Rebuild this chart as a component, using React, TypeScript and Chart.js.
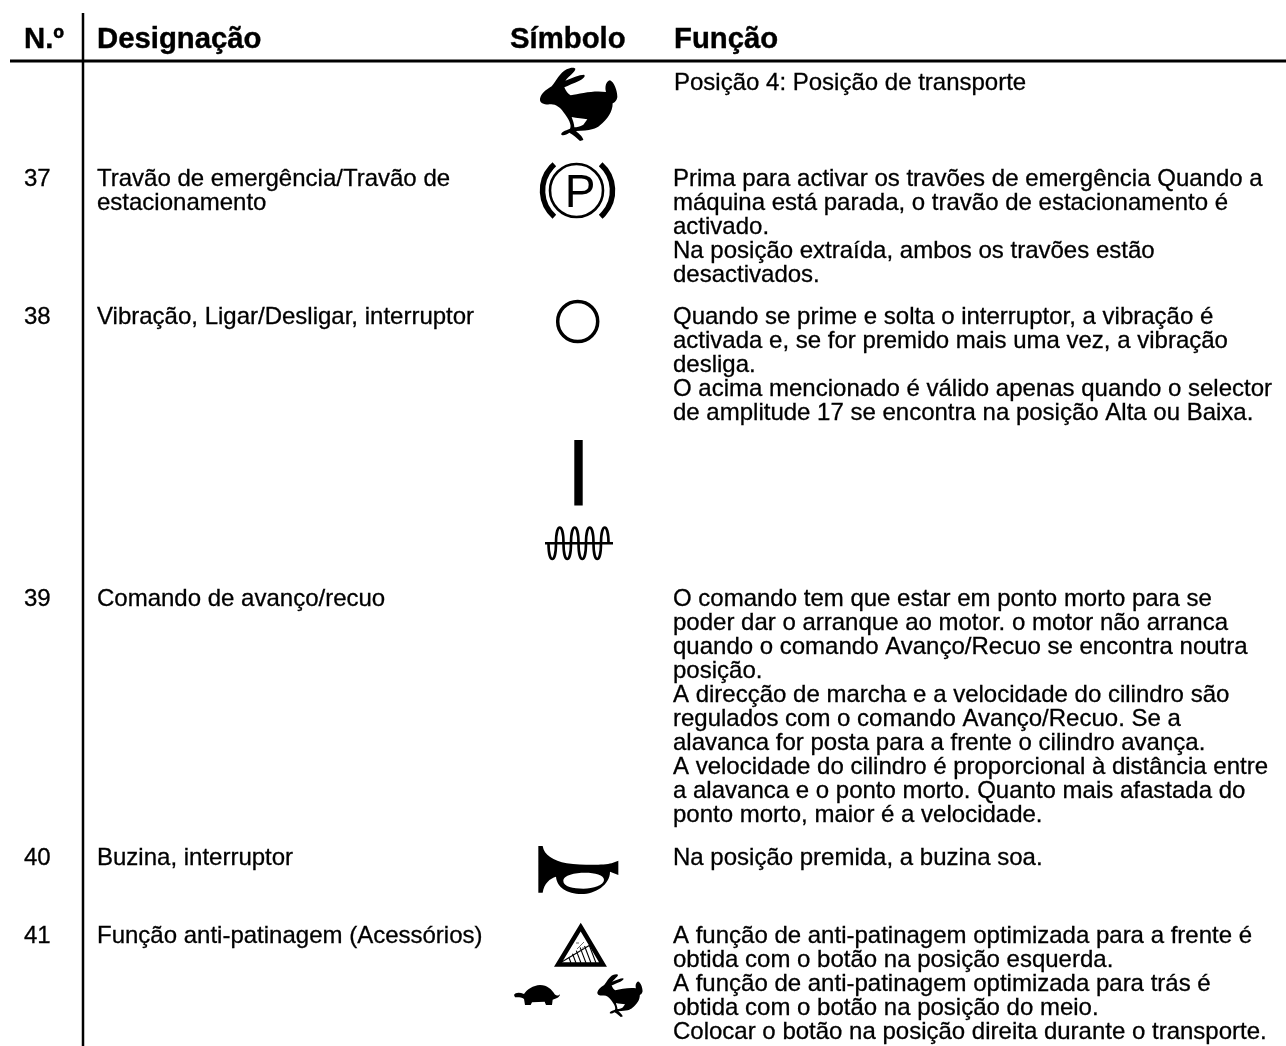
import React, { useEffect, useRef } from "react";
import { Chart, registerables } from "chart.js";

Chart.register(...registerables);

const headers = ["N.º", "Designação", "Símbolo", "Função"];
const numbers = ["37", "38", "39", "40", "41"];
const designations = [
  ["Travão de emergência/Travão de", "estacionamento"],
  ["Vibração, Ligar/Desligar, interruptor"],
  ["Comando de avanço/recuo"],
  ["Buzina, interruptor"],
  ["Função anti-patinagem (Acessórios)"],
];
const transportLine = ["Posição 4: Posição de transporte"];
const fn37 = [
  "Prima para activar os travões de emergência Quando a",
  "máquina está parada, o travão de estacionamento é",
  "activado.",
  "Na posição extraída, ambos os travões estão",
  "desactivados.",
];
const fn38 = [
  "Quando se prime e solta o interruptor, a vibração é",
  "activada e, se for premido mais uma vez, a vibração",
  "desliga.",
  "O acima mencionado é válido apenas quando o selector",
  "de amplitude 17 se encontra na posição Alta ou Baixa.",
];
const fn39 = [
  "O comando tem que estar em ponto morto para se",
  "poder dar o arranque ao motor. o motor não arranca",
  "quando o comando Avanço/Recuo se encontra noutra",
  "posição.",
  "A direcção de marcha e a velocidade do cilindro são",
  "regulados com o comando Avanço/Recuo. Se a",
  "alavanca for posta para a frente o cilindro avança.",
  "A velocidade do cilindro é proporcional à distância entre",
  "a alavanca e o ponto morto. Quanto mais afastada do",
  "ponto morto, maior é a velocidade.",
];
const fn40 = ["Na posição premida, a buzina soa."];
const fn41 = [
  "A função de anti-patinagem optimizada para a frente é",
  "obtida com o botão na posição esquerda.",
  "A função de anti-patinagem optimizada para trás é",
  "obtida com o botão na posição do meio.",
  "Colocar o botão na posição direita durante o transporte.",
];
const rowBaselines = [186, 324, 605.5, 865, 942.5];

const RABBIT =
  "M30 110 C34 95 45 85 65 73 C78 58 90 32 110 22 C120 17 132 15 136 20 C136 30 118 40 106 56 C125 48 148 38 162 38 C168 42 160 50 148 56 C130 64 115 70 103 76 C108 88 114 96 122 100 C150 94 195 84 228 90 C224 75 228 58 240 55 C252 60 262 85 262 105 C260 118 252 122 248 124 C248 150 232 172 210 190 C200 200 180 207 138 207 C148 216 160 226 160 234 L150 237 C140 228 130 218 118 212 C110 218 100 222 94 218 C92 210 105 206 120 200 C126 190 116 170 100 150 C90 135 75 125 60 127 C45 128 28 125 30 110 Z M125 165 C140 168 160 170 172 172 L160 188 C150 194 140 196 133 196 C133 185 128 175 125 165 Z";
const TURTLE =
  "M12 240 C16 232 28 231 42 237 C50 224 70 211 90 210 C112 210 126 224 134 238 C140 244 146 242 150 238 C150 246 138 252 128 254 L126 270 L108 270 L104 260 L66 262 L62 270 L45 270 L42 252 C34 246 24 247 15 247 Z";
const HORN =
  "M25 18 L38 18 C42 45 70 62 110 70 C160 76 220 76 245 70 L265 62 L265 105 L240 95 C240 135 195 162 155 162 C110 162 80 140 78 110 C60 115 42 130 38 158 L25 158 Z M100 123 C100 105 135 98 165 98 C195 98 222 105 222 120 C222 135 190 146 160 146 C130 146 100 140 100 123 Z";

const symbolsPlugin = {
  id: "sheet",
  afterDatasetsDraw(chart: any) {
    const { ctx, scales } = chart;
    const X = (v: number) => scales.x.getPixelForValue(v);
    const Y = (v: number) => scales.y.getPixelForValue(v);
    ctx.save();
    ctx.fillStyle = "#000";
    ctx.strokeStyle = "#000";
    ctx.textBaseline = "alphabetic";

    const put = (s: string, x: number, y: number) => {
      ctx.fillText(s, X(x), Y(y));
      ctx.strokeText(s, X(x), Y(y));
    };
    ctx.font = 'bold 29.3px "Liberation Sans"';
    ctx.lineWidth = 0.4;
    const hx = [24, 97, 510, 674];
    headers.forEach((h, i) => put(h, hx[i], 48));

    ctx.font = '24px "Liberation Sans"';
    ctx.lineWidth = 0.3;
    const LH = 24;
    const block = (lines: string[], x: number, y: number) =>
      lines.forEach((l, i) => put(l, x, y + i * LH));
    numbers.forEach((n, i) => put(n, 24, rowBaselines[i]));
    designations.forEach((d, i) => block(d, 97, rowBaselines[i]));
    block(transportLine, 674, 90);
    block(fn37, 673, rowBaselines[0]);
    block(fn38, 673, rowBaselines[1]);
    block(fn39, 673, rowBaselines[2]);
    block(fn40, 673, rowBaselines[3]);
    block(fn41, 673, rowBaselines[4]);

    const path = (d: string, ox: number, oy: number, s: number) => {
      ctx.save();
      ctx.translate(X(ox), Y(oy));
      ctx.scale(s, s);
      ctx.fill(new Path2D(d), "evenodd");
      ctx.restore();
    };
    path(RABBIT, 530, 62, 1 / 3);
    path(RABBIT, 591.5, 970.8, 0.195);
    path(TURTLE, 510, 915, 1 / 3);
    path(HORN, 530, 840, 1 / 3);

    // parking brake
    ctx.lineWidth = 2.6;
    ctx.beginPath();
    ctx.arc(X(576.5), Y(190.5), 26.5, 0, Math.PI * 2);
    ctx.stroke();
    ctx.lineWidth = 5.5;
    ctx.beginPath();
    ctx.arc(X(577.5), Y(190.5), 35, Math.PI * 0.73, Math.PI * 1.27);
    ctx.stroke();
    ctx.beginPath();
    ctx.arc(X(577.5), Y(190.5), 35, -Math.PI * 0.27, Math.PI * 0.27);
    ctx.stroke();
    ctx.font = '46px "Liberation Sans"';
    ctx.textAlign = "center";
    ctx.fillText("P", X(580), Y(207));
    ctx.textAlign = "left";

    // on switch circle
    ctx.lineWidth = 3.5;
    ctx.beginPath();
    ctx.arc(X(577.7), Y(321.5), 20, 0, Math.PI * 2);
    ctx.stroke();
    // bar
    ctx.fillRect(X(574.3), Y(440), 8.4, 65.5);
    // coil
    ctx.lineWidth = 2.6;
    ctx.beginPath();
    ctx.moveTo(X(545), Y(543.3));
    ctx.lineTo(X(613), Y(543.3));
    ctx.stroke();
    ctx.beginPath();
    ctx.moveTo(X(548.5), Y(543.3));
    let cur = 548.5;
    for (let i = 0; i < 8; i++) {
      const next = cur + 7.5;
      const h = i % 2 === 0 ? 21 : -21;
      ctx.bezierCurveTo(X(cur), Y(543.3 + h), X(next), Y(543.3 + h), X(next), Y(543.3));
      cur = next;
    }
    ctx.stroke();

    // slope triangle
    ctx.lineWidth = 4.5;
    ctx.lineJoin = "miter";
    ctx.miterLimit = 3;
    ctx.beginPath();
    ctx.moveTo(X(580.7), Y(927));
    ctx.lineTo(X(603), Y(964.5));
    ctx.lineTo(X(558), Y(964.5));
    ctx.closePath();
    ctx.stroke();
    ctx.lineWidth = 1.1;
    ctx.beginPath();
    ctx.moveTo(X(561.7), Y(962));
    ctx.lineTo(X(590), Y(945));
    for (let i = 0; i < 6; i++) {
      const bx = 571 + i * 5;
      const topY = Math.max(946 + 0, 957 - i * 3.2);
      ctx.moveTo(X(bx), Y(963));
      ctx.lineTo(X(bx - (963 - topY) * 0.38), Y(topY));
    }
    ctx.stroke();
    ctx.lineWidth = 0.9;
    ctx.strokeStyle = "#555";
    ctx.beginPath();
    ctx.moveTo(X(577), Y(949));
    ctx.lineTo(X(584), Y(942));
    ctx.moveTo(X(576), Y(943));
    ctx.lineTo(X(579), Y(943));
    ctx.moveTo(X(582), Y(948));
    ctx.lineTo(X(585), Y(948));
    ctx.stroke();
    ctx.restore();
  },
};

const ruleX = [10, 1286];
const ruleY = [61, 61];
const colX = [83, 83];
const colY = [13, 1046];

export default function App() {
  const ref = useRef<HTMLCanvasElement>(null);
  useEffect(() => {
    document.body.style.margin = "0";
    document.body.style.background = "#fff";
    const chart = new Chart(ref.current as HTMLCanvasElement, {
      type: "line",
      data: {
        datasets: [
          {
            data: ruleX.map((x, i) => ({ x, y: ruleY[i] })),
            borderColor: "#000",
            borderWidth: 3,
            pointRadius: 0,
          },
          {
            data: colX.map((x, i) => ({ x, y: colY[i] })),
            borderColor: "#000",
            borderWidth: 2.5,
            pointRadius: 0,
          },
        ],
      },
      options: {
        animation: false,
        responsive: false,
        layout: { padding: 0 },
        plugins: { legend: { display: false }, tooltip: { enabled: false } },
        scales: {
          x: { type: "linear", display: false, min: 0, max: 1286 },
          y: { type: "linear", display: false, min: 0, max: 1046, reverse: true },
        },
      },
      plugins: [symbolsPlugin],
    });
    return () => chart.destroy();
  }, []);
  return <canvas ref={ref} width={1286} height={1046} style={{ display: "block" }} />;
}
